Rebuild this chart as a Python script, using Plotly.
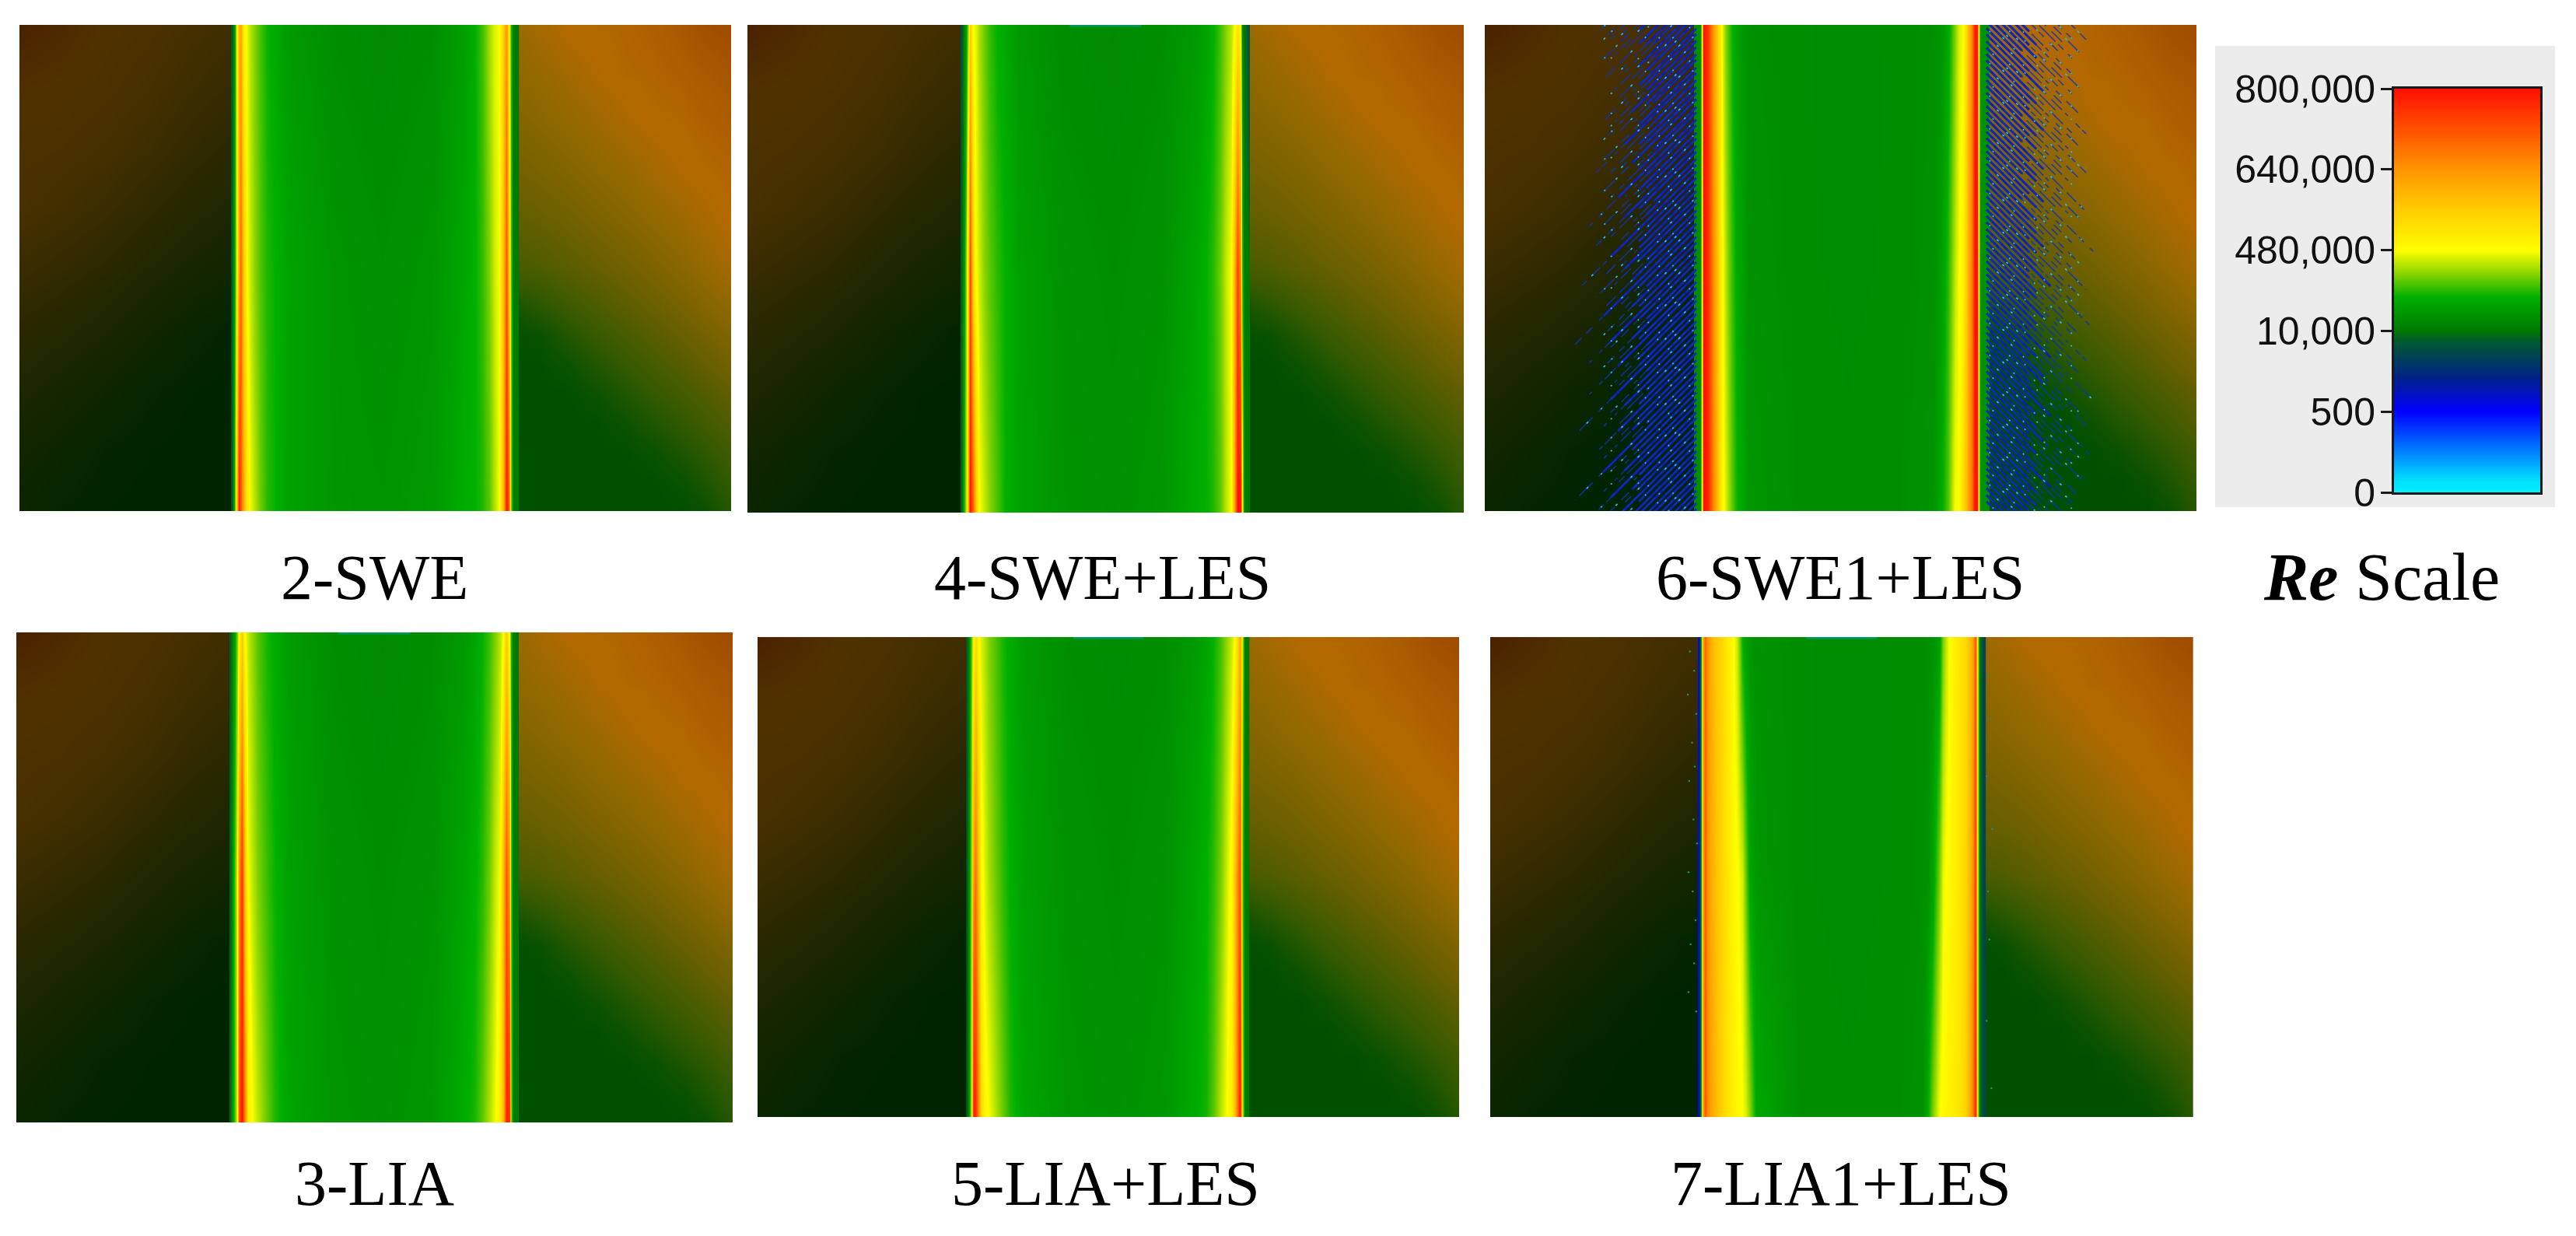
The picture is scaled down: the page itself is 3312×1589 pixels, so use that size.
import numpy as np
import plotly.graph_objects as go

W, H = 3312, 1589

# ---------- Reynolds scale ----------
RE_TICK_VALUES = [0, 500, 10000, 480000, 640000, 800000]
RE_TICK_LABELS = ["0", "500", "10,000", "480,000", "640,000", "800,000"]
RE_COLOURS = [
    (0.00, "rgb(0,240,255)"), (0.03, "rgb(0,225,255)"), (0.10, "rgb(0,130,255)"), (0.20, "rgb(0,0,255)"),
    (0.28, "rgb(0,30,140)"), (0.38, "rgb(0,95,40)"), (0.40, "rgb(0,120,0)"),
    (0.484, "rgb(0,175,0)"), (0.54, "rgb(130,210,0)"), (0.60, "rgb(255,255,0)"),
    (0.70, "rgb(255,205,0)"), (0.80, "rgb(255,150,0)"), (0.90, "rgb(255,80,0)"),
    (1.00, "rgb(255,15,0)"),
]

# ---------- floodplain tone (shared by every panel) ----------
LEFT_X = [0, 6, 12, 18, 24, 31]
LEFT_Y = [0, 12.5, 25, 37.5, 50, 62.5, 75, 87.5, 100]
LEFT_TONE = [
    [.12, .05, .02, 0, 0, 0],
    [.2, .12, .05, .02, 0, 0],
    [.35, .25, .15, .07, .02, 0],
    [.5, .42, .32, .2, .1, .02],
    [.65, .58, .5, .38, .27, .17],
    [.78, .72, .65, .55, .44, .33],
    [.82, .8, .75, .68, .58, .48],
    [.88, .85, .82, .76, .68, .6],
    [1, .93, .85, .82, .75, .68],
]
LEFT_COLOURS = [(0, "rgb(0,36,0)"), (.5, "rgb(42,40,0)"), (.85, "rgb(80,50,0)"), (1, "rgb(75,33,0)")]

RIGHT_X = [69, 73, 77, 81, 85, 89, 93, 96, 100]
RIGHT_Y = [0, 6, 12, 18, 24, 30, 36, 42, 50, 60, 70, 80, 90, 100]
RIGHT_TONE = [
    [0, 0, 0, 0, 0, 0, 0, .03, .18],
    [0, 0, 0, 0, 0, 0, .04, .12, .24],
    [0, 0, 0, 0, 0, .04, .13, .2, .3],
    [0, 0, 0, 0, .05, .14, .22, .29, .38],
    [0, 0, 0, .05, .14, .23, .31, .37, .46],
    [0, 0, .05, .15, .24, .32, .4, .47, .55],
    [0, .04, .15, .25, .33, .41, .49, .55, .63],
    [.1, .18, .27, .35, .43, .5, .58, .64, .72],
    [.33, .36, .42, .48, .54, .61, .68, .74, .81],
    [.45, .49, .54, .6, .66, .72, .78, .83, .88],
    [.55, .59, .64, .7, .75, .81, .86, .88, .9],
    [.63, .68, .73, .78, .84, .88, .89, .91, .93],
    [.7, .75, .8, .86, .89, .9, .92, .94, .96],
    [.76, .82, .88, .89, .9, .92, .95, .98, 1.0],
]
RIGHT_COLOURS = [(0, "rgb(0,80,0)"), (.25, "rgb(55,90,0)"), (.5, "rgb(105,95,0)"),
                 (.75, "rgb(150,105,0)"), (.88, "rgb(180,105,0)"), (1, "rgb(160,75,0)")]

# ---------- channel Re (in thousands), rows bottom / middle / top ----------
ROW_Y = [0, 50, 100]
X_A = [29.9, 30.2, 30.5, 30.8, 31.1, 31.5, 31.9, 32.4, 33.0, 33.8, 34.8, 36, 38, 44, 51, 58,
       62.5, 64, 65, 66, 66.8, 67.5, 68, 68.4, 68.8, 69.1, 69.4, 69.9]
X_6 = [29.7, 30.3, 30.5, 30.7, 31.3, 32.2, 33.1, 33.6, 34.1, 34.7, 35.3, 36, 37, 44, 51, 58,
       63, 64.2, 65.1, 66, 66.6, 67.2, 67.8, 68.4, 68.9, 69.2, 69.35, 69.6, 70.5]
X_7 = [29.7, 30, 30.2, 30.5, 30.9, 31.8, 33.2, 34.6, 35.2, 35.8, 36.4, 37, 37.8, 44, 51, 58,
       61.5, 62.2, 63, 63.8, 64.4, 65.3, 66.7, 67.6, 68.5, 69, 69.3, 69.6, 70.2]

RE_2SWE = [
    [9, 190, 560, 800, 720, 600, 520, 470, 400, 320, 250, 207, 160, 120, 110, 130, 200, 207, 240, 300, 400, 480, 600, 800, 700, 300, 30, 25],
    [9, 150, 480, 620, 700, 560, 480, 420, 350, 290, 240, 207, 165, 115, 95, 115, 175, 207, 260, 340, 430, 480, 590, 720, 560, 240, 25, 20],
    [9, 100, 480, 600, 620, 500, 460, 400, 340, 280, 220, 180, 130, 90, 75, 90, 150, 207, 270, 380, 450, 480, 560, 640, 500, 200, 20, 15],
]
RE_3LIA = [
    [9, 150, 300, 480, 720, 800, 640, 510, 470, 400, 320, 240, 170, 115, 100, 120, 195, 230, 300, 390, 460, 510, 590, 780, 760, 350, 30, 25],
    [9, 120, 300, 480, 640, 760, 560, 470, 400, 330, 270, 215, 155, 105, 90, 105, 165, 200, 245, 320, 410, 480, 590, 720, 620, 280, 25, 20],
    [9, 60, 180, 350, 480, 560, 470, 410, 350, 290, 235, 195, 140, 90, 75, 90, 130, 170, 210, 265, 330, 400, 480, 560, 470, 220, 20, 15],
]
RE_4SWELES = [
    [9, 190, 400, 620, 800, 700, 560, 480, 420, 350, 280, 207, 160, 110, 100, 120, 190, 207, 240, 300, 400, 480, 620, 800, 800, 500, 40, 25],
    [9, 100, 350, 560, 740, 540, 470, 420, 350, 300, 250, 207, 150, 105, 90, 105, 170, 205, 250, 320, 410, 480, 590, 740, 640, 250, 20, 15],
    [8, 30, 150, 400, 560, 480, 440, 380, 320, 260, 207, 175, 125, 85, 75, 90, 130, 165, 207, 270, 340, 400, 470, 520, 490, 60, 10, 8],
]
RE_5LIALES = [
    [9, 170, 480, 800, 760, 640, 540, 490, 470, 400, 320, 240, 170, 115, 100, 120, 195, 230, 300, 400, 470, 510, 580, 700, 800, 450, 30, 25],
    [9, 150, 420, 640, 680, 560, 490, 440, 380, 320, 260, 207, 150, 105, 90, 105, 175, 207, 255, 330, 420, 490, 570, 670, 720, 300, 25, 20],
    [9, 120, 340, 480, 540, 480, 440, 390, 340, 290, 235, 190, 135, 90, 80, 90, 135, 175, 215, 275, 350, 420, 480, 540, 620, 420, 20, 15],
]
RE_6SWE1LES = [
    [90, 100, 480, 800, 780, 640, 520, 480, 400, 300, 230, 190, 120, 90, 85, 90, 110, 190, 300, 470, 480, 540, 600, 680, 800, 790, 480, 110, 100],
    [90, 100, 480, 800, 770, 630, 510, 450, 350, 260, 200, 160, 105, 85, 82, 85, 100, 150, 250, 400, 470, 500, 580, 670, 800, 790, 480, 110, 100],
    [90, 100, 480, 800, 760, 620, 500, 400, 300, 215, 170, 130, 95, 85, 80, 85, 95, 110, 190, 330, 430, 480, 560, 660, 790, 780, 480, 110, 100],
]
RE_7LIA1LES = [
    [1, 200, 600, 720, 650, 600, 540, 500, 490, 480, 430, 340, 180, 90, 85, 90, 100, 190, 340, 470, 490, 500, 520, 550, 640, 780, 500, 12, 7],
    [1, 200, 600, 710, 640, 590, 535, 490, 480, 430, 290, 170, 120, 85, 80, 85, 95, 100, 170, 330, 460, 490, 520, 545, 620, 750, 500, 12, 7],
    [1, 200, 600, 700, 640, 580, 530, 480, 400, 207, 150, 120, 105, 85, 80, 85, 90, 95, 105, 150, 340, 480, 520, 540, 600, 720, 500, 12, 7],
]

# ---------- instability streaks of 6-SWE1+LES ----------
STREAK_SLOPE = 1.46
L_STREAK_Y = [121.3, 120.1, 118.6, 117.4, 116.0, 114.7, 113.3, 112.0, 110.6, 109.4, 107.8,
              106.2, 104.9, 103.3, 102.1, 100.8, 99.2, 98.1, 96.7, 95.4, 93.9, 92.8, 91.2, 90.1, 88.6, 87.2, 86.0,
              84.7, 83.1, 82.0, 80.5, 79.3, 77.8, 76.6, 75.1, 73.9, 72.4, 71.2, 69.8, 68.5, 67.2, 65.8, 64.5,
              63.3, 61.8, 60.6, 59.1, 57.9, 56.4, 55.2, 53.8, 52.4, 51.2, 49.7, 48.6, 47.1, 45.9, 44.3, 43.2,
              41.7, 40.5, 39.0, 37.8, 36.4, 35.1, 33.7, 32.5, 31.0, 29.8, 28.3, 27.1, 25.7, 24.4, 23.0, 21.8,
              20.3, 19.1, 17.6, 16.4, 15.0, 13.7, 12.3, 11.1, 9.6, 8.4, 6.9, 5.7, 4.2, 3.0, 1.6, 0.4]
L_STREAK_REACH = [13, 12, 14, 11, 13, 12, 11, 13, 12, 10, 13,
                  11, 10, 12, 9, 11, 13, 10, 12, 13, 11, 9, 13, 14, 10, 12, 11, 13, 9, 12, 15, 10, 13, 11, 14, 12, 9, 11, 16, 10, 13,
                  11, 14, 12, 9, 13, 17, 11, 10, 13, 11, 15, 12, 9, 13, 11, 15, 10, 12, 11, 17, 9, 12, 13, 10, 11, 14, 11, 13, 9, 17,
                  12, 10, 13, 11, 15, 9, 12, 10, 13, 10, 12, 9, 11, 10, 10, 9, 10, 8, 9, 8]
L_STREAK_SOLID = [8, 7, 9, 6, 8, 7, 7, 8, 8, 6, 8,
                  7, 6, 8, 6, 7, 8, 7, 7, 9, 7, 6, 8, 10, 6, 8, 7, 9, 6, 8, 11, 7, 8, 7, 10, 8, 6, 7, 12, 7, 8,
                  8, 10, 8, 7, 9, 13, 8, 7, 9, 8, 12, 8, 7, 9, 8, 11, 7, 8, 8, 12, 7, 8, 10, 7, 8, 11, 8, 9, 7, 13,
                  9, 8, 10, 8, 12, 8, 9, 8, 11, 8, 9, 8, 9, 8, 8, 7, 8, 7, 7, 6]
R_STREAK_Y = [122.8, 121.5, 120.1, 118.8, 117.4, 116.1, 114.7, 113.4, 112.0, 110.7, 109.3, 107.4, 106.1, 104.6, 103.4, 102.0, 100.7, 99.3, 98.0, 96.6, 95.3, 94.0, 92.7, 91.3, 90.0, 88.6, 87.4,
              86.0, 84.7, 83.3, 82.0, 80.7, 79.3, 78.0, 76.7, 75.3, 74.0, 72.7, 71.4, 70.0, 68.7, 67.4, 66.0,
              64.7, 63.3, 62.0, 60.7, 59.4, 58.0, 56.7, 55.3, 54.0, 52.7, 51.4, 50.0, 48.7, 47.3, 46.0, 44.7,
              43.3, 42.0, 40.7, 39.3, 38.0, 36.7, 35.3, 34.0, 32.7, 31.4, 30.0, 28.7, 27.3, 26.0, 24.7, 23.4,
              22.0, 20.7, 19.3, 18.0, 16.7, 15.3, 14.0, 12.7, 11.3, 10.0, 8.7, 7.4, 6.0, 4.7, 3.3, 2.0]
R_STREAK_REACH = [12, 13, 11, 12, 14, 11, 12, 13, 11, 12, 10, 12, 13, 11, 12, 10, 13, 11, 14, 10, 12, 13, 11, 12, 14, 10, 13,
                  11, 12, 10, 14, 11, 13, 12, 10, 15, 11, 12, 10, 13, 11, 12, 14,
                  10, 13, 11, 12, 15, 10, 11, 13, 12, 10, 14, 11, 12, 13, 10, 15,
                  11, 12, 10, 13, 14, 11, 10, 12, 15, 11, 13, 10, 12, 14, 11, 10,
                  13, 11, 12, 15, 10, 11, 13, 10, 12, 11, 9, 10, 8, 9, 7, 7]
R_STREAK_SOLID = [6, 7, 6, 6, 7, 6, 7, 6, 6, 7, 6, 6, 7, 6, 7, 5, 7, 6, 8, 5, 6, 7, 6, 6, 8, 5, 7,
                  6, 7, 5, 8, 6, 7, 7, 5, 8, 6, 7, 5, 7, 6, 7, 8,
                  6, 7, 6, 7, 9, 6, 6, 7, 7, 6, 8, 6, 7, 7, 6, 9,
                  6, 7, 6, 8, 8, 6, 6, 7, 9, 6, 7, 6, 7, 8, 6, 6,
                  7, 6, 7, 9, 6, 6, 7, 6, 7, 6, 6, 6, 5, 6, 5, 5]
# dash rhythms: unequal periods so the specks do not line up into columns
BLUE_DASHES = ["17px,5px,9px,11px,24px,7px", "11px,8px,21px,4px,6px,13px", "26px,6px,7px,9px,14px,12px",
               "8px,4px,15px,10px,19px,6px,5px,14px", "13px,9px,29px,5px,10px,8px"]
CYAN_DASHES = ["0px,11px,2px,23px,3px,41px", "0px,29px,3px,17px,2px,53px", "0px,5px,2px,37px,3px,19px,2px,31px",
               "0px,19px,3px,47px,2px,13px", "0px,41px,2px,11px,3px,29px,2px,23px"]

# ---------- scattered specks of 7-LIA1+LES ----------
SPECK_X = [28.4, 29.0, 28.1, 29.3, 28.7, 29.1, 28.3, 28.9, 29.4, 28.2, 28.8, 29.2, 28.5, 29.0, 28.2, 29.3,
           70.7, 71.2, 70.6, 71.4, 70.8, 71.0, 70.6, 71.3]
SPECK_Y = [97, 93, 88, 84, 78, 73, 70, 62, 57, 51, 47, 41, 36, 32, 26, 22, 92, 83, 71, 60, 47, 37, 20, 6]

# ---------- panels ----------
PANEL_NAMES = ["2-SWE", "4-SWE+LES", "6-SWE1+LES", "3-LIA", "5-LIA+LES", "7-LIA1+LES"]
PANEL_DATA = [(X_A, RE_2SWE), (X_A, RE_4SWELES), (X_6, RE_6SWE1LES),
              (X_A, RE_3LIA), (X_A, RE_5LIALES), (X_7, RE_7LIA1LES)]
PANEL_BOX = [(25, 940, 32, 657), (961, 1882, 32, 659), (1909, 2824, 32, 657),
             (21, 942, 813, 1443), (974, 1876, 819, 1436), (1916, 2820, 819, 1436)]
LABEL_CENTRE = [(481, 742), (1417, 742), (2366, 742), (481, 1521), (1421, 1521), (2367, 1521)]
TEAL_STRIP = ["", "y", "", "y", "y", "y"]


def level(re_thousand):
    return np.interp(re_thousand, [v / 1000 for v in RE_TICK_VALUES], [0, 1, 2, 3, 4, 5])


def streak_path(edge, side, ys, reaches):
    xs, yy = [], []
    for y0, r in zip(ys, reaches):
        xs += [edge, edge + side * r, None]
        yy += [y0, y0 - r * STREAK_SLOPE, None]
    return xs, yy


fig = go.Figure()
layout = {}
for i, (name, (cx, re_rows), box) in enumerate(zip(PANEL_NAMES, PANEL_DATA, PANEL_BOX)):
    n = "" if i == 0 else str(i + 1)
    xa, ya = f"x{n}", f"y{n}"
    l, r, t, b = box
    layout[f"xaxis{n}"] = dict(domain=[l / W, r / W], range=[0, 100], visible=False, anchor=ya, fixedrange=True,
                               automargin=False)
    layout[f"yaxis{n}"] = dict(domain=[1 - b / H, 1 - t / H], range=[0, 100], visible=False, anchor=xa, fixedrange=True,
                               automargin=False)
    fig.add_trace(go.Heatmap(x=LEFT_X, y=LEFT_Y, z=LEFT_TONE, colorscale=LEFT_COLOURS, zmin=0, zmax=1,
                             zsmooth="best", showscale=False, xaxis=xa, yaxis=ya, hoverinfo="skip"))
    fig.add_trace(go.Heatmap(x=RIGHT_X, y=RIGHT_Y, z=RIGHT_TONE, colorscale=RIGHT_COLOURS, zmin=0, zmax=1,
                             zsmooth="best", showscale=False, xaxis=xa, yaxis=ya, hoverinfo="skip"))
    fig.add_trace(go.Heatmap(x=cx, y=ROW_Y, z=level(np.array(re_rows, float)), coloraxis="coloraxis",
                             zsmooth="best", xaxis=xa, yaxis=ya, name=name))
    if TEAL_STRIP[i]:
        fig.add_trace(go.Scatter(x=[45, 55], y=[100, 100], mode="lines", line=dict(color="rgb(0,150,100)", width=5),
                                 xaxis=xa, yaxis=ya, hoverinfo="skip"))
    if name == "6-SWE1+LES":
        for edge, side, ys, reach, solid in [(cx[0], -1, L_STREAK_Y, L_STREAK_REACH, L_STREAK_SOLID),
                                             (cx[-1], 1, R_STREAK_Y, R_STREAK_REACH, R_STREAK_SOLID)]:
            xs, yy = streak_path(edge, side, ys, solid)
            fig.add_trace(go.Scatter(x=xs, y=yy, mode="lines", line=dict(color="rgb(12,30,190)", width=3),
                                     xaxis=xa, yaxis=ya, hoverinfo="skip"))
            for g in range(5):
                xs, yy = streak_path(edge, side, ys[g::5], reach[g::5])
                fig.add_trace(go.Scatter(x=xs, y=yy, mode="lines", opacity=0.8,
                                         line=dict(color="rgb(15,50,190)", width=1.6, dash=BLUE_DASHES[g]),
                                         xaxis=xa, yaxis=ya, hoverinfo="skip"))
                fig.add_trace(go.Scatter(x=xs, y=yy, mode="lines",
                                         line=dict(color="rgb(35,195,215)", width=1.8, dash=CYAN_DASHES[g]),
                                         xaxis=xa, yaxis=ya, hoverinfo="skip"))
    if name == "7-LIA1+LES":
        fig.add_trace(go.Scatter(x=SPECK_X, y=SPECK_Y, mode="markers", marker=dict(size=2.5, color="rgb(40,140,110)"),
                                 xaxis=xa, yaxis=ya, hoverinfo="skip"))

# Re scale bar
BAR_LEVELS = [0, 1, 2, 3, 4, 5]
fig.add_trace(go.Heatmap(x=[0, 1], y=BAR_LEVELS, z=[[v, v] for v in BAR_LEVELS], coloraxis="coloraxis",
                         zsmooth="best", xaxis="x7", yaxis="y7", name="Re scale"))
bl, br, bt, bb = 3078, 3266, 114, 633
layout["xaxis7"] = dict(domain=[bl / W, br / W], range=[0, 1], anchor="y7", showticklabels=False, ticks="",
                        showgrid=False, zeroline=False, showline=True, mirror=True, linecolor="#1a1a1a", linewidth=3,
                        fixedrange=True, automargin=False)
layout["yaxis7"] = dict(domain=[1 - bb / H, 1 - bt / H], range=[0, 5], anchor="x7", tickmode="array",
                        tickvals=BAR_LEVELS, ticktext=RE_TICK_LABELS, ticks="outside", ticklen=14, tickwidth=3,
                        tickcolor="#1a1a1a", showgrid=False, zeroline=False, showline=True, mirror=True,
                        linecolor="#1a1a1a", linewidth=3, fixedrange=True, automargin=False, ticklabelstandoff=-3,
                        tickfont=dict(family="Liberation Sans", size=50, color="#111111"))

annotations = [dict(text=nm, x=cxy[0] / W, y=1 - cxy[1] / H, xref="paper", yref="paper", showarrow=False,
                    xanchor="center", yanchor="middle", font=dict(family="Liberation Serif", size=82, color="black"))
               for nm, cxy in zip(PANEL_NAMES, LABEL_CENTRE)]
annotations.append(dict(text="<b><i>Re</i></b> Scale", x=3062 / W, y=1 - 742 / H, xref="paper", yref="paper",
                        showarrow=False, xanchor="center", yanchor="middle",
                        font=dict(family="Liberation Serif", size=86, color="black")))

fig.update_layout(
    width=W, height=H, margin=dict(l=0, r=0, t=0, b=0), paper_bgcolor="white", plot_bgcolor="white",
    showlegend=False, autosize=False, annotations=annotations,
    coloraxis=dict(colorscale=RE_COLOURS, cmin=0, cmax=5, showscale=False),
    shapes=[dict(type="rect", xref="paper", yref="paper", x0=2848 / W, x1=3285 / W, y0=1 - 652 / H, y1=1 - 59 / H,
                 fillcolor="#ececec", line_width=0, layer="below")],
    **layout,
)
fig.write_html("out.html", config={"displayModeBar": False},
               post_script="document.body.style.margin='0';document.documentElement.style.overflow='hidden';")
